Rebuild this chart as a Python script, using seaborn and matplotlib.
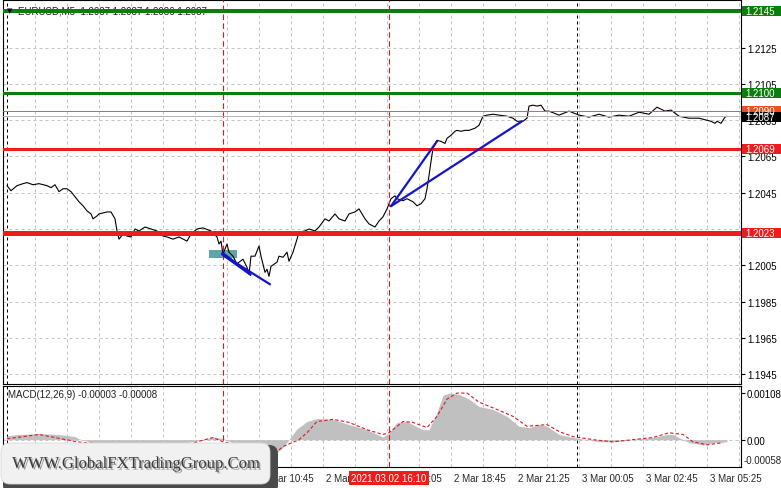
import matplotlib
matplotlib.use("Agg")
import matplotlib.pyplot as plt
import matplotlib.transforms as mtransforms
import matplotlib.patheffects as pe
from matplotlib.patches import Rectangle, FancyBboxPatch, Polygon
import pandas as pd
import seaborn as sns

# ---------------- data ----------------
price_bars = [0,2,5,8,10,13,16,20,22,24,26,28,30,32,34,36,38,40,42,43,45,46,50,52,54,55,56,58,60,62,
              64,66,69,72,75,78,80,83,86,90,92,95,98,102,105,106,107,108,110,111,113,115,116,118,120,121,
              122,124,126,127,129,130,131,132,135,136,138,140,141,143,145,146,149,151,154,156,159,161,164,
              166,169,171,174,176,179,181,184,186,188,190,192,194,195,198,200,203,205,207,209,210,211,212,
              213,215,217,219,220,222,224,225,227,229,231,234,236,238,240,243,246,250,253,255,258,260,261,
              263,265,267,269,271,276,281,286,291,296,301,306,311,316,321,325,329,332,336,341,346,350,352,
              354,355,357,359,360]
price_close = [1.20489,1.20461,1.20489,1.20500,1.20506,1.20494,1.20500,1.20489,1.20478,1.20494,
               1.20456,1.20472,1.20472,1.20456,1.20428,1.20400,1.20378,1.20350,1.20333,1.20306,
               1.20322,1.20333,1.20344,1.20344,1.20306,1.20239,1.20194,1.20222,1.20211,1.20206,
               1.20250,1.20239,1.20261,1.20250,1.20239,1.20211,1.20206,1.20194,1.20206,1.20183,
               1.20222,1.20250,1.20256,1.20239,1.20206,1.20167,1.20183,1.20111,1.20167,1.20122,
               1.20100,1.20056,1.20067,1.20083,1.20039,1.20000,1.20100,1.20100,1.20156,1.20100,
               1.20011,1.20028,1.19989,1.20044,1.20067,1.20100,1.20094,1.20122,1.20072,1.20122,
               1.20194,1.20233,1.20239,1.20250,1.20239,1.20261,1.20306,1.20294,1.20333,1.20306,
               1.20294,1.20333,1.20344,1.20361,1.20306,1.20278,1.20261,1.20294,1.20317,1.20361,
               1.20417,1.20433,1.20417,1.20406,1.20417,1.20400,1.20378,1.20389,1.20417,1.20472,
               1.20544,1.20622,1.20694,1.20739,1.20733,1.20722,1.20750,1.20767,1.20789,1.20794,
               1.20789,1.20794,1.20794,1.20806,1.20822,1.20872,1.20878,1.20883,1.20878,1.20872,
               1.20861,1.20844,1.20844,1.20861,1.20928,1.20933,1.20928,1.20933,1.20900,1.20900,
               1.20878,1.20900,1.20878,1.20867,1.20883,1.20867,1.20878,1.20872,1.20894,1.20883,
               1.20922,1.20900,1.20906,1.20872,1.20861,1.20861,1.20850,1.20844,1.20833,1.20844,
               1.20833,1.20867,1.20872]

macd_bars = [0,6,16,26,34,36,46,54,56,66,76,86,96,103,108,114,121,129,134,138,
             141,145,150,155,163,171,180,188,191,195,200,208,211,215,218,221,226,231,236,243,
             250,256,261,266,270,276,283,290,296,303,310,315,323,330,333,336,341,348,353,360]
macd_hist = [0.00009,0.00012,0.00014,0.00012,0.00007,0.00002,-0.00012,-0.00025,-0.00030,-0.00028,
             -0.00018,-0.00010,-0.00002,0.00006,0.00003,-0.00010,-0.00028,-0.00040,-0.00034,-0.00018,
             0.00000,0.00025,0.00042,0.00049,0.00047,0.00035,0.00023,0.00006,0.00015,0.00040,
             0.00042,0.00023,0.00023,0.00063,0.00103,0.00108,0.00105,0.00094,0.00077,0.00070,
             0.00054,0.00031,0.00028,0.00035,0.00031,0.00012,0.00005,0.00000,-0.00005,-0.00005,
             -0.00002,0.00002,0.00005,0.00012,0.00012,0.00005,-0.00007,-0.00012,-0.00007,-0.00005]
signal_bars = [0,16,35,46,62,76,92,95,103,108,121,134,138,146,150,155,163,171,180,188,
               191,198,203,210,215,220,225,230,236,245,253,260,270,276,283,293,303,313,323,331,
               338,343,350,358]
signal_vals = [0.00002,0.00012,-0.00005,-0.00010,-0.00020,-0.00020,-0.00010,-0.00005,0.00005,-0.00005,
               -0.00018,-0.00031,-0.00016,0.00000,0.00016,0.00042,0.00047,0.00040,0.00023,0.00012,
               0.00016,0.00042,0.00040,0.00028,0.00054,0.00094,0.00108,0.00108,0.00087,0.00070,
               0.00054,0.00031,0.00035,0.00019,0.00007,0.00000,-0.00005,0.00000,0.00005,0.00016,
               0.00012,-0.00005,-0.00012,-0.00007]

# 1.2025 and 1.2145 sit under the level boxes in the reference, so they carry no text
price_ticks = [1.1945, 1.1965, 1.1985, 1.2005, 1.2025, 1.2045, 1.2065, 1.2085, 1.2105, 1.2125, 1.2145]
price_tick_labels = ["1.1945", "1.1965", "1.1985", "1.2005", "", "1.2045", "1.2065",
                     "1.2085", "1.2105", "1.2125", ""]
macd_ticks = [0.00108, 0.0]
macd_tick_labels = ["0.00108", "0.00"]
macd_min_label = "-0.00058"

time_tick_bars = [126, 158, 190, 222, 254, 286, 318, 350]
time_tick_labels = ["2 Mar 10:45", "2 Mar 13:25", "2 Mar 16:05", "2 Mar 18:45", "2 Mar 21:25",
                    "3 Mar 00:05", "3 Mar 02:45", "3 Mar 05:25"]
grid_bars = list(range(14, 367, 16))
day_sep_bars = [0, 285]
marker_bars = [108, 191]
cursor_bar = 191
cursor_label = "2021.03.02 16:10"

# horizontal levels
level_values = [1.2145, 1.2100, 1.2090, 1.20872, 1.2069, 1.2023]
level_colors = ["#0b7f0b", "#0b7f0b", "#e8642a", "#b4b4b4", "#ee1c1c", "#ee1c1c"]
level_widths_px = [4, 3, 1, 1, 3, 5]
box_values = [1.2145, 1.2100, 1.2090, 1.2087, 1.2069, 1.2023]
box_labels = ["1.2145", "1.2100", "1.2090", "1.2087", "1.2069", "1.2023"]
box_colors = ["#0b7f0b", "#0b7f0b", "#ee5020", "#000000", "#ee1c1c", "#ee1c1c"]

# analyst drawings (bar, price)
trend_a_bars = [107.5, 131.5]
trend_a_price = [1.20111, 1.19945]
trend_b_bars = [107.5, 121, 122, 108.5]
trend_b_price = [1.20122, 1.20011, 1.19994, 1.20100]
trend_c_bars = [192, 215]
trend_c_price = [1.20376, 1.20734]
trend_d_bars = [192, 257.5]
trend_d_price = [1.20376, 1.20844]
zone_bars = [101, 115]
zone_price = [1.20089, 1.20133]

title_text = "EURUSD,M5  1.2087 1.2087 1.2086 1.2087"
macd_text = "MACD(12,26,9) -0.00003 -0.00008"
watermark = "WWW.GlobalFXTradingGroup.Com"

# ---------------- figure ----------------
sns.set_style("white")
plt.rcParams["font.family"] = ["Liberation Sans", "DejaVu Sans"]
FS = 7
W, H = 781, 489
PX = 72.0 / 100.0  # points per pixel
fig = plt.figure(figsize=(W / 100, H / 100), dpi=100)
fig.patch.set_facecolor("white")

ax1 = fig.add_axes([3 / W, (H - 385) / H, 738 / W, 384 / H])
ax2 = fig.add_axes([3 / W, (H - 468) / H, 738 / W, 81 / H])
for ax in (ax1, ax2):
    ax.set_facecolor("white")
    ax.set_xlim(-2, 367)
    for s in ax.spines.values():
        s.set_color("black")
        s.set_linewidth(0.8)
        s.set_visible(True)
ax1.set_ylim(1.19395, 1.21513)
ax2.set_ylim(-0.000634, 0.001244)

grid_kw = dict(color="#c4c4c4", lw=0.72, ls=(0, (3, 3)), zorder=0.5)
for ax in (ax1, ax2):
    for b in grid_bars:
        ax.axvline(b, **grid_kw)
    for b in day_sep_bars:
        ax.axvline(b, color="black", lw=0.72, ls=(0, (3, 3)), zorder=0.6)
    for b in marker_bars:
        ax.axvline(b, color="#e01818", lw=0.8, ls=(0, (5, 3)), zorder=3)
for t in price_ticks:
    ax1.axhline(t, **grid_kw)
ax2.axhline(0.0, **grid_kw)

# ---- main price panel ----
ax1.add_patch(Rectangle((zone_bars[0], zone_price[0]), zone_bars[1] - zone_bars[0],
                        zone_price[1] - zone_price[0], facecolor="#4f9a9e", edgecolor="none",
                        alpha=0.9, zorder=1))
df_price = pd.DataFrame({"bar": price_bars, "close": price_close})
sns.lineplot(data=df_price, x="bar", y="close", ax=ax1, color="black", lw=0.8,
             legend=False, zorder=2)

for v, c, w in zip(level_values, level_colors, level_widths_px):
    ax1.axhline(v, color=c, lw=w * PX, zorder=4)

blue = "#1414c8"
ax1.plot(trend_a_bars, trend_a_price, color=blue, lw=1.6, zorder=5, solid_capstyle="round")
ax1.add_patch(Polygon(list(zip(trend_b_bars, trend_b_price)), closed=True, fill=False,
                      edgecolor=blue, lw=1.2, zorder=5))
ax1.plot(trend_c_bars, trend_c_price, color=blue, lw=1.6, zorder=5)
ax1.plot(trend_d_bars, trend_d_price, color=blue, lw=1.6, zorder=5)

ax1.yaxis.tick_right()
ax1.set_yticks(price_ticks)
ax1.set_yticklabels(price_tick_labels)
ax1.tick_params(axis="y", direction="out", length=3, width=0.8, pad=1.5,
                labelsize=FS, colors="black")
ax1.set_xticks([])
ax1.set_xlabel("")
ax1.set_ylabel("")

blend1 = mtransforms.blended_transform_factory(fig.transFigure, ax1.transData)
bh = 10 / 18130
for v, t, c in zip(box_values, box_labels, box_colors):
    ax1.add_patch(Rectangle((742 / W, v - bh / 2), 39 / W, bh, transform=blend1,
                            facecolor=c, edgecolor="none", clip_on=False, zorder=8))
    ax1.text(745 / W, v, t, transform=blend1, color="white", fontsize=FS, va="center",
             ha="left", zorder=9, clip_on=False)

ax1.text(18 / W, (H - 11) / H, title_text, transform=fig.transFigure, fontsize=FS,
         color="#202020", va="center", ha="left", zorder=3)
ax1.text(7 / W, (H - 11) / H, "\u25BC", transform=fig.transFigure, fontsize=5,
         color="black", va="center", ha="left", zorder=6, family="DejaVu Sans")

# ---- MACD panel ----
ax2.fill_between(macd_bars, macd_hist, 0, color="#c0c0c0", lw=0, zorder=1)
df_sig = pd.DataFrame({"bar": signal_bars, "signal": signal_vals})
sns.lineplot(data=df_sig, x="bar", y="signal", ax=ax2, color="#d81a2a", lw=0.8,
             linestyle=(0, (3, 2)), legend=False, zorder=2)
ax2.yaxis.tick_right()
ax2.set_yticks(macd_ticks)
ax2.set_yticklabels(macd_tick_labels)
ax2.tick_params(axis="y", direction="out", length=3, width=0.8, pad=1.0,
                labelsize=FS, colors="black")
ax2.text(1.0 + 3 / 738, (468 - 461) / 81, macd_min_label, transform=ax2.transAxes,
         fontsize=FS, va="center", ha="left", clip_on=False)
ax2.set_xticks(time_tick_bars)
ax2.set_xticklabels([""] * len(time_tick_bars))
ax2.tick_params(axis="x", direction="out", length=3, width=0.8)
ax2.set_xlabel("")
ax2.set_ylabel("")
ax2.text(8 / W, (H - 395) / H, macd_text, transform=fig.transFigure, fontsize=FS,
         color="#202020", va="center", ha="left", zorder=5)

blend2 = mtransforms.blended_transform_factory(ax2.transData, fig.transFigure)
for b, t in zip(time_tick_bars, time_tick_labels):
    ax2.text(b + 1.5, (H - 479) / H, t, transform=blend2, fontsize=FS, va="center",
             ha="left", clip_on=False, zorder=3)
ax2.add_patch(Rectangle((171, (H - 486) / H), 40, 14 / H, transform=blend2,
                        facecolor="#ee1c1c", edgecolor="none", clip_on=False, zorder=6))
ax2.text(cursor_bar, (H - 479) / H, cursor_label, transform=blend2, fontsize=FS,
         color="white", va="center", ha="center", clip_on=False, zorder=7)

# ---- watermark ----
idt = mtransforms.IdentityTransform()
shadow = FancyBboxPatch((3, -6), 275, 49, boxstyle="round,pad=0,rounding_size=9",
                        transform=idt, facecolor="#4a4a4a", edgecolor="none", zorder=20)
box = FancyBboxPatch((1, 4), 269, 41, boxstyle="round,pad=0,rounding_size=9",
                     transform=idt, facecolor="#f1f1f1", edgecolor="#d8d8d8", lw=0.6, zorder=21)
fig.patches.extend([shadow, box])
fig.text(136 / W, (H - 465) / H, watermark, family="Liberation Serif", fontsize=12,
         color="#3a3a3a", ha="center", va="center", zorder=22,
         path_effects=[pe.withSimplePatchShadow(offset=(1.2, -1.2), shadow_rgbFace="#777777",
                                                alpha=0.7)])

fig.savefig("out.png", dpi=100, facecolor="white")
